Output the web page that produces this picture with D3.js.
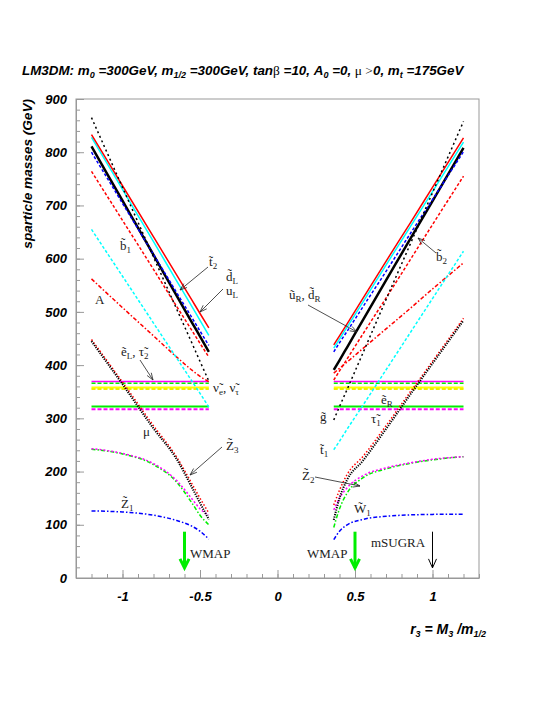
<!DOCTYPE html>
<html>
<head>
<meta charset="utf-8">
<script src="https://cdn.jsdelivr.net/npm/d3@7"></script>
<style>
body { margin: 0; background: #fff; }
text { font-family: "Liberation Sans", Arial, sans-serif; }
.lbl { font-family: "Liberation Serif", "DejaVu Serif", serif; font-size: 13px; fill: #222; }
</style>
</head>
<body>
<script>
// r3 = M3/m1/2 sample points, left and right branch
var leftR3  = [-1.2, -1.0, -0.8, -0.65, -0.55, -0.5, -0.443];
var rightR3 = [0.363, 0.4, 0.45, 0.55, 0.7, 0.85, 1.0, 1.2];

// squarks, gluino, A  (GeV)
var redSolidL   = [833, 737, 641, 569, 521, 497, 470];
var redSolidR   = [438, 455, 478, 525, 595, 664, 734, 827];
var cyanSolidL  = [828, 730, 632, 558, 509, 484, 456];
var cyanSolidR  = [432, 449, 472, 518, 588, 657, 726, 819];
var blackSolidL = [811, 709, 607, 530, 479, 454, 425];
var blackSolidR = [391, 409, 434, 484, 559, 634, 708, 808];
var blueDashL   = [800, 704, 608, 536, 488, 464, 437];
var blueDashR   = [425, 442, 464, 509, 576, 644, 711, 801];
var redDashL    = [764, 672, 580, 510, 464, 441, 415];
var redDashR    = [372, 389, 412, 458, 526, 595, 664, 755];
var gluinoL     = [865, 734, 603, 505, 440, 407, 370];
var gluinoR     = [297, 322, 355, 422, 523, 623, 724, 858];
var stop1L      = [655, 567, 479, 413, 369, 347, 321];
var stop1R      = [241, 257, 280, 324, 391, 458, 525, 614];
var higgsAL     = [562, 508, 455, 415, 390, 379, 369];
var higgsAR     = [385, 394, 406, 431, 468, 505, 543, 592];

// mu and gauginos
var muL    = [445, 364, 281, 223, 169, 141, 110];
var muR    = [109, 150, 185, 220, 280, 342, 403, 484];
var z4L    = [448, 368, 286, 227, 176, 150, 122];
var z4R    = [137, 165, 195, 228, 286, 347, 407, 488];
var z2L    = [242, 233, 213, 180, 140, 118, 100];
var z2R    = [95, 130, 160, 188, 205, 215, 222, 228];
var w1L    = [243, 234, 215, 183, 148, 130, 118];
var w1R    = [128, 150, 170, 192, 207, 216, 223, 228];
var z1L    = [126, 124, 118, 108, 97, 88, 73];
var z1R    = [72, 88, 100, 110, 116, 118.5, 119.5, 120];

// sleptons (flat in r3)
var eL = 369, tau2 = 366, nuE = 358, nuTau = 355, eR = 322, tau1 = 317;

var xMajor = [-1, -0.5, 0, 0.5, 1];
var yMajor = [0, 100, 200, 300, 400, 500, 600, 700, 800, 900];
var wmapR3 = [-0.6, 0.5];
var msugraR3 = 1.0;

var svg = d3.select('body').append('svg').attr('width', 545).attr('height', 705);

var x = d3.scaleLinear().domain([-1.3, 1.3]).range([76, 479]);
var y = d3.scaleLinear().domain([0, 900]).range([578, 99]);

// axes
var gx = svg.append('g').attr('transform', 'translate(0,578)');
gx.call(d3.axisBottom(x).tickValues(d3.range(-13, 14).map(function(d){ return d / 10; }))
  .tickSize(-4).tickSizeOuter(0).tickFormat(''));
gx.call(function(g){ g.select('.domain').remove(); });
var gx2 = svg.append('g').attr('transform', 'translate(0,578)');
gx2.call(d3.axisBottom(x).tickValues(xMajor).tickSize(-8).tickSizeOuter(0).tickPadding(14)
  .tickFormat(function(d){ return String(d); }));

var gy = svg.append('g').attr('transform', 'translate(76,0)');
gy.call(d3.axisLeft(y).tickValues(d3.range(0, 901, 20)).tickSize(-4).tickSizeOuter(0).tickFormat(''));
gy.call(function(g){ g.select('.domain').remove(); });
var gy2 = svg.append('g').attr('transform', 'translate(76,0)');
gy2.call(d3.axisLeft(y).tickValues(yMajor).tickSize(-8).tickSizeOuter(0).tickPadding(9));

svg.selectAll('.tick line, .domain').attr('stroke', '#999');
svg.selectAll('.tick text').attr('font-size', 13).attr('font-weight', 'bold')
  .attr('font-style', 'italic').attr('fill', '#000')
  .attr('font-family', '"Liberation Sans", Arial, sans-serif');

svg.append('rect').attr('x', 76).attr('y', 99).attr('width', 403).attr('height', 479)
  .attr('fill', 'none').attr('stroke', '#999');

// rich text helper: parts {t, s (baseline shift), f (font)}
function rich(txt, parts, base) {
  var off = 0;
  parts.forEach(function(p) {
    var s = p.s || 0;
    var t = txt.append('tspan').text(p.t).attr('dy', s - off);
    if (p.s) t.attr('font-size', p.fs || Math.round(base * 0.66));
    if (p.f) t.attr('font-family', p.f).attr('font-weight', 'normal').attr('font-style', 'normal');
    off = s;
  });
  return txt;
}

var serif = '"Liberation Serif", serif';
rich(svg.append('text').attr('x', 22).attr('y', 75).attr('font-size', 13.4)
  .attr('font-weight', 'bold').attr('font-style', 'italic'), [
  {t: 'LM3DM: m'}, {t: '0', s: 3}, {t: ' =300GeV, m'}, {t: '1/2', s: 3}, {t: ' =300GeV, tan'},
  {t: '\u03b2', f: serif}, {t: ' =10, A'}, {t: '0', s: 3}, {t: ' =0, '}, {t: '\u03bc >', f: serif},
  {t: '0, m'}, {t: 't', s: 3}, {t: ' =175GeV'}
], 13.4);

svg.append('text').attr('transform', 'translate(32,99) rotate(-90)').attr('text-anchor', 'end')
  .attr('font-size', 13.6).attr('font-weight', 'bold').attr('font-style', 'italic')
  .text('sparticle masses (GeV)');

rich(svg.append('text').attr('x', 486).attr('y', 634).attr('text-anchor', 'end').attr('font-size', 14)
  .attr('font-weight', 'bold').attr('font-style', 'italic'), [
  {t: 'r'}, {t: '3', s: 3}, {t: ' = M'}, {t: '3', s: 3}, {t: ' /m'}, {t: '1/2', s: 3}
], 14);

// curves
var line = d3.line().x(function(d){ return x(d[0]); }).y(function(d){ return y(d[1]); })
  .curve(d3.curveMonotoneX);

function pts(r, m) { return r.map(function(v, i){ return [v, m[i]]; }); }
function flat(r, v) { return [[r[0], v], [r[r.length - 1], v]]; }

var curves = [
  {l: flat(leftR3, eR),    r: flat(rightR3, eR),    c: '#00ee00', w: 2,   d: null},
  {l: flat(leftR3, tau1),  r: flat(rightR3, tau1),  c: '#ff00ff', w: 2,   d: '4,2'},
  {l: flat(leftR3, nuE),   r: flat(rightR3, nuE),   c: '#ffff00', w: 2,   d: null},
  {l: flat(leftR3, nuTau), r: flat(rightR3, nuTau), c: '#eeee00', w: 2,   d: '4,2'},
  {l: flat(leftR3, eL),    r: flat(rightR3, eL),    c: '#ff00ff', w: 1.5, d: null},
  {l: flat(leftR3, tau2),  r: flat(rightR3, tau2),  c: '#00ee00', w: 1.5, d: '4,2'},
  {l: pts(leftR3, higgsAL),  r: pts(rightR3, higgsAR),  c: '#ff0000', w: 1.5, d: '4,2,1.5,2'},
  {l: pts(leftR3, stop1L),   r: pts(rightR3, stop1R),   c: '#00ffff', w: 1.5, d: '3,2'},
  {l: pts(leftR3, redDashL), r: pts(rightR3, redDashR), c: '#ff0000', w: 1.5, d: '3,2'},
  {l: pts(leftR3, blackSolidL), r: pts(rightR3, blackSolidR), c: '#000', w: 2.5, d: null},
  {l: pts(leftR3, blueDashL),   r: pts(rightR3, blueDashR),   c: '#0000ff', w: 1.5, d: '3,2'},
  {l: pts(leftR3, cyanSolidL),  r: pts(rightR3, cyanSolidR),  c: '#00ffff', w: 1.5, d: null},
  {l: pts(leftR3, redSolidL),   r: pts(rightR3, redSolidR),   c: '#ff0000', w: 1.5, d: null},
  {l: pts(leftR3, gluinoL), r: pts(rightR3, gluinoR), c: '#000', w: 1.5, d: '2,3'},
  {l: pts(leftR3, z2L), r: pts(rightR3, z2R), c: '#00ee00', w: 1.5, d: '4,2,1.5,2'},
  {l: pts(leftR3, w1L), r: pts(rightR3, w1R), c: '#ff00ff', w: 1.5, d: '2,2'},
  {l: pts(leftR3, z4L), r: pts(rightR3, z4R), c: '#ff0000', w: 1.5, d: '1.5,2'},
  {l: pts(leftR3, muL), r: pts(rightR3, muR), c: '#000', w: 2, d: '1.2,1.2'},
  {l: pts(leftR3, z1L), r: pts(rightR3, z1R), c: '#0000ff', w: 1.5, d: '4,2,1.5,2'}
];

var gc = svg.append('g').attr('fill', 'none');
curves.forEach(function(c) {
  [c.l, c.r].forEach(function(p) {
    gc.append('path').attr('d', line(p)).attr('stroke', c.c).attr('stroke-width', c.w)
      .attr('stroke-dasharray', c.d);
  });
});

// labels
var T = '\u0303';
var labels = [
  {x: 120, y: 250, p: [{t: 'b' + T}, {t: '1', s: 3}]},
  {x: 95,  y: 304, p: [{t: 'A'}]},
  {x: 209, y: 266, p: [{t: 't' + T}, {t: '2', s: 3}]},
  {x: 226, y: 281, p: [{t: 'd' + T}, {t: 'L', s: 3}]},
  {x: 226, y: 295, p: [{t: 'u'}, {t: 'L', s: 3}]},
  {x: 121, y: 356, p: [{t: 'e' + T}, {t: 'L', s: 3}, {t: ', \u03c4' + T}, {t: '2', s: 3}]},
  {x: 213, y: 392, p: [{t: '\u03bd' + T}, {t: 'e', s: 3}, {t: ', \u03bd' + T}, {t: '\u03c4', s: 3}]},
  {x: 143, y: 436, p: [{t: '\u03bc'}]},
  {x: 226, y: 450, p: [{t: 'Z' + T}, {t: '3', s: 3}]},
  {x: 121, y: 508, p: [{t: 'Z' + T}, {t: '1', s: 3}]},
  {x: 190, y: 558, p: [{t: 'WMAP'}]},
  {x: 289, y: 299, p: [{t: 'u' + T}, {t: 'R', s: 3}, {t: ', d' + T}, {t: 'R', s: 3}]},
  {x: 436, y: 261, p: [{t: 'b' + T}, {t: '2', s: 3}]},
  {x: 381, y: 404, p: [{t: 'e' + T}, {t: 'R', s: 3}]},
  {x: 371, y: 423, p: [{t: '\u03c4' + T}, {t: '1', s: 3}]},
  {x: 320, y: 421, p: [{t: 'g' + T}]},
  {x: 320, y: 454, p: [{t: 't' + T}, {t: '1', s: 3}]},
  {x: 302, y: 480, p: [{t: 'Z' + T}, {t: '2', s: 3}]},
  {x: 354, y: 513, p: [{t: 'W' + T}, {t: '1', s: 3}]},
  {x: 307, y: 558, p: [{t: 'WMAP'}]},
  {x: 371, y: 547, p: [{t: 'mSUGRA'}]}
];
labels.forEach(function(l) {
  rich(svg.append('text').attr('class', 'lbl').attr('x', l.x).attr('y', l.y), l.p, 13);
});

// arrows
function arrow(x1, y1, x2, y2, col, w, hl, hw) {
  var a = Math.atan2(y2 - y1, x2 - x1);
  var g = svg.append('g').attr('stroke', col).attr('stroke-width', w).attr('fill', 'none');
  g.append('line').attr('x1', x1).attr('y1', y1).attr('x2', x2).attr('y2', y2);
  var p1 = [x2 - hl * Math.cos(a) + hw * Math.sin(a), y2 - hl * Math.sin(a) - hw * Math.cos(a)];
  var p2 = [x2 - hl * Math.cos(a) - hw * Math.sin(a), y2 - hl * Math.sin(a) + hw * Math.cos(a)];
  g.append('path').attr('d', 'M' + p1 + 'L' + x2 + ',' + y2 + 'L' + p2);
}
var pointers = [
  [208, 267, 180, 290], [223, 289, 200, 312], [140, 360, 153, 380], [222, 447, 190, 475],
  [308, 305, 357, 332], [436, 253, 418, 238], [315, 477, 360, 486]
];
pointers.forEach(function(p){ arrow(p[0], p[1], p[2], p[3], '#222', 0.8, 7, 2.5); });

wmapR3.forEach(function(r){ arrow(x(r), y(87), x(r), y(19), '#00ee00', 3, 9, 4.5); });
arrow(x(msugraR3), y(87), x(msugraR3), y(19), '#000', 1, 9, 4);
</script>
</body>
</html>
